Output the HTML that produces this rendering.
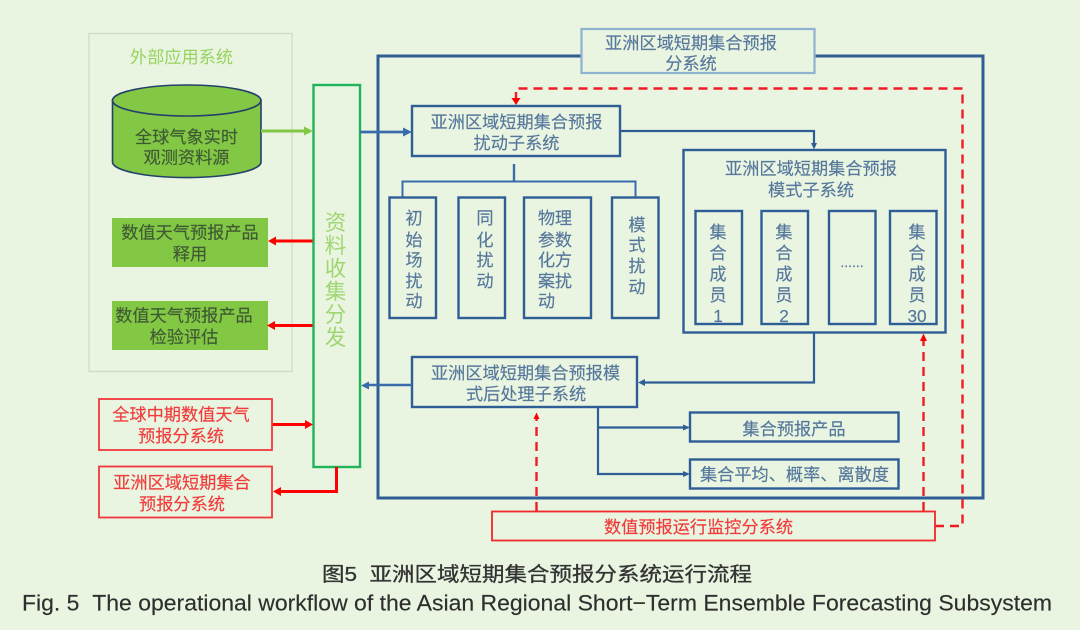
<!DOCTYPE html>
<html><head><meta charset="utf-8">
<style>
html,body{margin:0;padding:0;background:#e9f5e1;width:1080px;height:630px;overflow:hidden}
svg{display:block}
text{font-family:"Liberation Sans","Noto Sans CJK SC",sans-serif;text-anchor:middle;dominant-baseline:central}
.b{fill:#56779c;font-size:17.2px;stroke:#56779c;stroke-width:.15}
.d{fill:#3f5a33;font-size:17.2px;stroke:#3f5a33;stroke-width:.15}
.r{fill:#f23a3a;font-size:17.2px;stroke:#f23a3a;stroke-width:.15}
.box{fill:none;stroke:#2f5d96;stroke-width:2.4}
.line{fill:none;stroke:#2f5d96;stroke-width:2.2}
.red{fill:none;stroke:#f00;stroke-width:3}
.dash{fill:none;stroke:#f01c24;stroke-width:2.4;stroke-dasharray:9 6}
.rb{fill:none;stroke:#f2383c;stroke-width:1.8}
</style></head><body>
<svg width="1080" height="630" viewBox="0 0 1080 630" xmlns="http://www.w3.org/2000/svg">
<rect width="1080" height="630" fill="#e9f5e1"/>

<!-- external system -->
<rect x="89" y="33.500" width="203" height="338" fill="none" stroke="#cfdccb" stroke-width="1.400"/>
<text x="181.500" y="57" fill="#97d35f" font-size="17.200">外部应用系统</text>
<path d="M112.500 100V162A74 15.500 0 0 0 261 162V100Z" fill="#82c845" stroke="#25406a" stroke-width="1.600"/>
<ellipse cx="186.700" cy="100.500" rx="74.200" ry="15.500" fill="#82c845" stroke="#25406a" stroke-width="1.600"/>
<text class="d" x="186.500" y="137">全球气象实时</text>
<text class="d" x="186.500" y="157.500">观测资料源</text>
<rect x="112" y="218" width="156" height="49" fill="#82c845"/>
<text class="d" x="190" y="232.500">数值天气预报产品</text>
<text class="d" x="190" y="254">释用</text>
<rect x="112" y="301" width="156" height="49" fill="#82c845"/>
<text class="d" x="184" y="315.500">数值天气预报产品</text>
<text class="d" x="184" y="337">检验评估</text>

<!-- collector -->
<rect x="313.500" y="85" width="46.500" height="382" fill="none" stroke="#1fb45a" stroke-width="2.400"/>
<g fill="#a0d672" font-size="21.500px">
<text x="335.500" y="223">资</text><text x="335.500" y="246">料</text><text x="335.500" y="269">收</text>
<text x="335.500" y="292">集</text><text x="335.500" y="315">分</text><text x="335.500" y="338">发</text>
</g>

<!-- left arrows -->
<path d="M261 131H305" stroke="#82c845" stroke-width="3" fill="none"/>
<path d="M313 131L304 126.500V135.500Z" fill="#82c845"/>
<path d="M312.500 241H274" class="red"/><path d="M268 241L276 236.500V245.500Z" fill="#f00"/>
<path d="M312.500 325.500H273" class="red"/><path d="M267 325.500L275 321V330Z" fill="#f00"/>
<path d="M272 424.500H306" class="red"/><path d="M313 424.500L305 420V429Z" fill="#f00"/>
<path d="M336.500 467V491.500H279" class="red"/><path d="M273 491.500L281 487V496Z" fill="#f00"/>

<!-- red boxes left -->
<rect x="99" y="399" width="173" height="51" class="rb"/>
<text class="r" x="181" y="414.500">全球中期数值天气</text>
<text class="r" x="181" y="436">预报分系统</text>
<rect x="99" y="466.500" width="173" height="51" class="rb"/>
<text class="r" x="182" y="482.500">亚洲区域短期集合</text>
<text class="r" x="182" y="504">预报分系统</text>

<!-- outer blue -->
<rect x="378" y="56" width="605" height="442" fill="none" stroke="#2f5d96" stroke-width="3"/>
<rect x="581.500" y="29" width="233" height="44" fill="#e9f5e1" stroke="#8fb2d0" stroke-width="2.200"/>
<text class="b" x="691" y="43">亚洲区域短期集合预报</text>
<text class="b" x="691" y="63.500">分系统</text>

<!-- arrows to disturbance -->
<path d="M360 132H406" stroke="#3a6cac" stroke-width="2.800" fill="none"/>
<path d="M412 132L403 127.500V136.500Z" fill="#3a6cac"/>

<!-- dashed -->
<path d="M935 526H962.500V88.500H516V99" class="dash"/>
<path d="M516 105L511.500 98H520.500Z" fill="#f00"/>
<path d="M536.500 511V418" class="dash"/>
<path d="M536.500 412.500L533.500 419H539.500Z" fill="#f00"/>
<path d="M923.500 511V340" class="dash"/>
<path d="M923.500 333.500L920 341H927Z" fill="#f00"/>

<!-- disturbance -->
<rect x="412" y="106" width="208" height="50" class="box"/>
<text class="b" x="516.500" y="122">亚洲区域短期集合预报</text>
<text class="b" x="516.500" y="143">扰动子系统</text>

<path d="M620 131H814V146" class="line"/>
<path d="M814 149.500L811 143H817Z" fill="#2f5d96"/>

<path d="M514 164V181" stroke="#3a6cac" stroke-width="2.400" fill="none"/>
<path d="M402.500 197V181.500H635.500V197" stroke="#3a6cac" stroke-width="2" fill="none"/>

<!-- sub boxes -->
<rect x="389.500" y="197.500" width="46.500" height="120.500" class="box"/>
<rect x="458.500" y="197.500" width="46.500" height="120.500" class="box"/>
<rect x="524" y="197.500" width="67" height="120.500" class="box"/>
<rect x="612" y="197.500" width="46.500" height="120.500" class="box"/>
<g class="b">
<text class="b" x="414" y="218">初</text><text class="b" x="414" y="240">始</text><text class="b" x="414" y="260">场</text><text class="b" x="414" y="281">扰</text><text class="b" x="414" y="301">动</text>
<text class="b" x="485" y="218">同</text><text class="b" x="485" y="240">化</text><text class="b" x="485" y="260">扰</text><text class="b" x="485" y="281">动</text>
<text class="b" x="546.500" y="218">物</text><text class="b" x="563.500" y="218">理</text>
<text class="b" x="546.500" y="240">参</text><text class="b" x="563.500" y="240">数</text>
<text class="b" x="546.500" y="260">化</text><text class="b" x="563.500" y="260">方</text>
<text class="b" x="546.500" y="281">案</text><text class="b" x="563.500" y="281">扰</text>
<text class="b" x="546.500" y="301">动</text>
<text class="b" x="637" y="225">模</text><text class="b" x="637" y="245">式</text><text class="b" x="637" y="266">扰</text><text class="b" x="637" y="287">动</text>
</g>

<!-- model -->
<rect x="683.500" y="150" width="262" height="182.500" class="box"/>
<text class="b" x="811" y="168.500">亚洲区域短期集合预报</text>
<text class="b" x="811" y="190">模式子系统</text>
<rect x="695.500" y="211" width="46.500" height="113" class="box"/>
<rect x="761.500" y="211" width="46.500" height="113" class="box"/>
<rect x="829" y="211" width="46.500" height="113" class="box"/>
<rect x="890" y="211" width="46.500" height="113" class="box"/>
<text class="b" x="718" y="232">集</text><text class="b" x="718" y="253">合</text><text class="b" x="718" y="274">成</text><text class="b" x="718" y="295">员</text><text class="b" x="718" y="316">1</text>
<text class="b" x="784" y="232">集</text><text class="b" x="784" y="253">合</text><text class="b" x="784" y="274">成</text><text class="b" x="784" y="295">员</text><text class="b" x="784" y="316">2</text>
<text class="b" x="852" y="262" style="font-size:14px">......</text>
<text class="b" x="917" y="232">集</text><text class="b" x="917" y="253">合</text><text class="b" x="917" y="274">成</text><text class="b" x="917" y="295">员</text><text class="b" x="917" y="316">30</text>

<!-- post processing -->
<path d="M814 332.500V382.500H644" class="line"/>
<path d="M638 382.500L645 379V386Z" fill="#2f5d96"/>
<rect x="412" y="357" width="225" height="50" class="box"/>
<text class="b" x="525.500" y="373">亚洲区域短期集合预报模</text>
<text class="b" x="526" y="394">式后处理子系统</text>
<path d="M412 385H367" stroke="#3a6cac" stroke-width="2.400" fill="none"/>
<path d="M361 385.500L369 381.500V389.500Z" fill="#3a6cac"/>

<path d="M598 407V474H685" class="line"/>
<path d="M598 427.500H685" class="line"/>
<path d="M690 427.500L683 424.500V430.500Z" fill="#2f5d96"/>
<path d="M690 474L683 471V477Z" fill="#2f5d96"/>
<rect x="690" y="412.500" width="208.500" height="29" class="box"/>
<text class="b" x="794" y="429">集合预报产品</text>
<rect x="690" y="459.500" width="208.500" height="29" class="box"/>
<text class="b" x="794.500" y="474.500">集合平均、概率、离散度</text>

<!-- monitor -->
<rect x="492" y="511.500" width="443" height="29" fill="#e9f5e1" stroke="#f2282c" stroke-width="1.800"/>
<text class="r" x="698.500" y="527">数值预报运行监控分系统</text>

<!-- caption -->
<text x="537" y="575" fill="#333333" stroke="#333333" stroke-width=".3" font-size="20px" textLength="430" lengthAdjust="spacingAndGlyphs">图5&#160;&#160;亚洲区域短期集合预报分系统运行流程</text>
<text x="537" y="603" fill="#2e2e2e" stroke="#2e2e2e" stroke-width=".15" font-size="22.500px" textLength="1030" lengthAdjust="spacingAndGlyphs">Fig. 5&#160;&#160;The operational workflow of the Asian Regional Short−Term Ensemble Forecasting Subsystem</text>
</svg>
</body></html>
